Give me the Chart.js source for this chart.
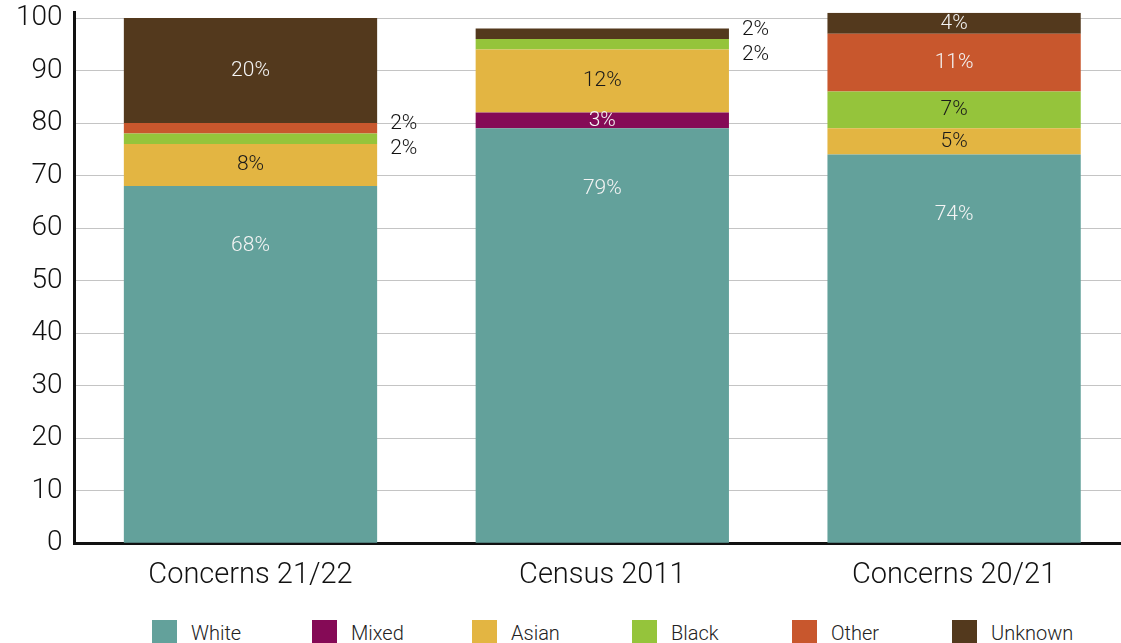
<!DOCTYPE html>
<html lang="en">
  <head>
    <meta charset="UTF-8" />
    <title>Concerns by ethnicity</title>
    <script src="https://cdn.jsdelivr.net/npm/chart.js@4.4.1/dist/chart.umd.min.js"></script>
    <style>
      html,
      body {
        margin: 0;
        padding: 0;
        background: #fff;
        overflow: hidden;
        font-family: Roboto, "Liberation Sans", sans-serif;
      }
      .chart-box {
        position: relative;
        width: 1130px;
        height: 628px;
        margin-top: -16px;
      }
      .legend {
        display: flex;
        padding-left: 152px;
        margin-top: 8px;
        font-size: 20px;
        font-weight: 300;
        color: #222;
      }
      .legend span {
        display: flex;
        align-items: center;
        width: 160px;
      }
      .legend i {
        display: inline-block;
        width: 25px;
        height: 25px;
        margin-right: 14px;
      }
    </style>
  </head>
  <body>
    <div class="chart-box">
      <canvas id="ethnicityChart"></canvas>
    </div>
    <div class="legend" id="legend"></div>

    <script>
      // values (percent of each group)
      const categories = ["Concerns 21/22", "Census 2011", "Concerns 20/21"];
      const groups = ["White", "Mixed", "Asian", "Black", "Other", "Unknown"];
      const white = [68, 79, 74];
      const mixed = [0, 3, 0];
      const asian = [8, 12, 5];
      const black = [2, 2, 7];
      const other = [2, 0, 11];
      const unknown = [20, 2, 4];
      const yTicks = [0, 10, 20, 30, 40, 50, 60, 70, 80, 90, 100];

      const colors = ["#63a19b", "#850a56", "#e3b542", "#95c43b", "#c8572d", "#53391d"];
      const labelColors = ["#f4f4f4", "#f4f4f4", "#1a1a1a", "#1a1a1a", "#f4f4f4", "#f4f4f4"];
      const FONT = "Roboto, 'Liberation Sans', sans-serif";

      const series = [white, mixed, asian, black, other, unknown];

      // draws the % figures; small ones (<=2) go to the right of the bar
      const barLabels = {
        id: "barLabels",
        afterDatasetsDraw(chart) {
          const ctx = chart.ctx;
          ctx.save();
          ctx.font = "300 21px " + FONT;
          ctx.textBaseline = "middle";
          categories.forEach((cat, i) => {
            const outside = [];
            chart.data.datasets.forEach((ds, d) => {
              const v = ds.data[i];
              if (!v) return;
              const bar = chart.getDatasetMeta(d).data[i];
              const cy = (bar.y + bar.base) / 2;
              if (v <= 2) {
                outside.push({ text: v + "%", y: cy, x: bar.x + bar.width / 2 + 13 });
              } else {
                ctx.fillStyle = labelColors[d];
                ctx.textAlign = "center";
                // the big white block label sits near the top of the bar
                const ly = d === 0 ? bar.y + 60 : cy;
                ctx.fillText(v + "%", bar.x, ly);
              }
            });
            if (outside.length) {
              const mid = outside.reduce((s, o) => s + o.y, 0) / outside.length + 3;
              outside.sort((a, b) => a.y - b.y);
              ctx.fillStyle = "#111";
              ctx.textAlign = "left";
              outside.forEach((o, k) => {
                const y = mid + (k - (outside.length - 1) / 2) * 25;
                ctx.fillText(o.text, o.x, y);
              });
            }
          });
          ctx.restore();
        },
      };

      // html legend under the canvas
      document.getElementById("legend").innerHTML = groups
        .map((g, i) => `<span><i style="background:${colors[i]}"></i>${g}</span>`)
        .join("");

      const ctx = document.getElementById("ethnicityChart").getContext("2d");
      new Chart(ctx, {
        type: "bar",
        data: {
          labels: categories,
          datasets: groups.map((g, i) => ({
            label: g,
            data: series[i],
            backgroundColor: colors[i],
            borderWidth: 0,
            categoryPercentage: 1,
            barPercentage: 0.72,
          })),
        },
        options: {
          responsive: true,
          maintainAspectRatio: false,
          animation: false,
          layout: { padding: { top: 0, right: 0, left: 4, bottom: 12 } },
          plugins: {
            tooltip: { enabled: false },
            legend: { display: false },
          },
          scales: {
            x: {
              stacked: true,
              grid: { display: false },
              border: { color: "#111", width: 3 },
              ticks: {
                color: "#111",
                padding: 7,
                font: { family: FONT, size: 29, weight: 300 },
              },
            },
            y: {
              stacked: true,
              min: 0,
              max: 101,
              afterBuildTicks: (axis) => {
                axis.ticks = yTicks.map((v) => ({ value: v }));
              },
              grid: { color: "#c4c4c4", lineWidth: 1, drawTicks: false },
              border: { color: "#111", width: 3 },
              ticks: {
                color: "#111",
                padding: 12,
                font: { family: FONT, size: 28, weight: 300 },
              },
            },
          },
        },
        plugins: [barLabels],
      });
    </script>
  </body>
</html>
